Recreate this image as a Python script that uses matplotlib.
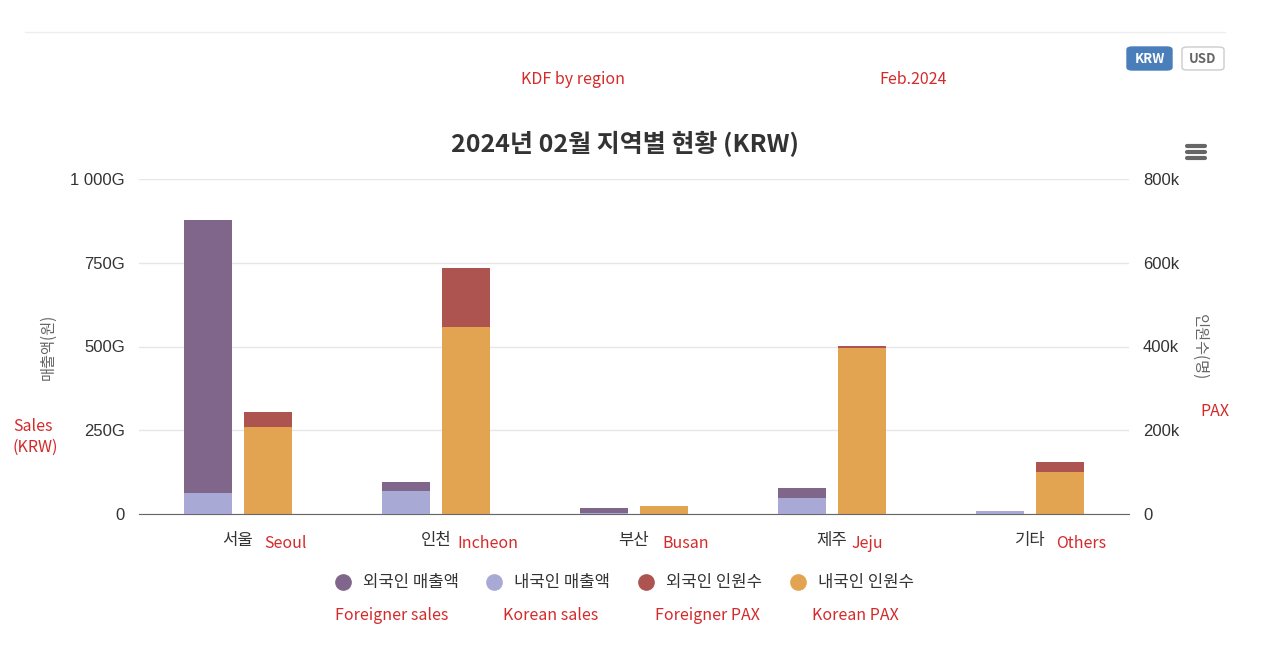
import matplotlib.pyplot as plt
from matplotlib.lines import Line2D
from matplotlib.patches import FancyBboxPatch
import numpy as np

plt.rcParams['font.family'] = ['Noto Sans CJK KR', 'DejaVu Sans']
latin = ['Liberation Sans', 'Noto Sans CJK KR']

# data (sales in G KRW, PAX in thousands)
regions_kr = ['서울', '인천', '부산', '제주', '기타']
regions_en = ['Seoul', 'Incheon', 'Busan', 'Jeju', 'Others']
foreign_sales = [815, 27, 15, 30, 1]
korean_sales = [63, 69, 3, 48, 8]
foreign_pax = [36, 140, 1, 5, 24]
korean_pax = [208, 447, 19, 396, 100]

series_kr = ['외국인 매출액', '내국인 매출액', '외국인 인원수', '내국인 인원수']
series_en = ['Foreigner sales', 'Korean sales', 'Foreigner PAX', 'Korean PAX']
colors = ['#80668b', '#a9a9d5', '#ad5450', '#e3a452']

W, H = 1277, 659
fig = plt.figure(figsize=(W / 100, H / 100), dpi=100)

def px(x, y):
    return x / W, 1 - y / H

ax = fig.add_axes([139 / W, 1 - 514 / H, 990 / W, 335 / H])
ax2 = ax.twinx()

x = np.arange(len(regions_kr))
bw = 0.242
off = 0.152

ax.bar(x - off, korean_sales, bw, color=colors[1], zorder=3)
ax.bar(x - off, foreign_sales, bw, bottom=korean_sales, color=colors[0], zorder=3)
ax2.bar(x + off, korean_pax, bw, color=colors[3], zorder=3)
ax2.bar(x + off, foreign_pax, bw, bottom=korean_pax, color=colors[2], zorder=3)

ax.set_xlim(-0.5, 4.5)
ax.set_ylim(0, 1000)
ax2.set_ylim(0, 800)
ax.set_yticks([0, 250, 500, 750, 1000])
ax.set_yticklabels(['0', '250G', '500G', '750G', '1 000G'])
ax2.set_yticks([0, 200, 400, 600, 800])
ax2.set_yticklabels(['0', '200k', '400k', '600k', '800k'])
ax2.grid(axis='y', color='#e6e6e6', lw=1, zorder=0)
ax2.set_axisbelow(True)
for a in (ax, ax2):
    for s in a.spines.values():
        s.set_visible(False)
    a.tick_params(length=0, labelsize=12, colors='#333333', pad=10)
    for t in a.get_yticklabels():
        t.set_family(latin)
ax.spines['bottom'].set_visible(True)
ax.spines['bottom'].set_color('#666666')
ax.set_xticks(x)
ax.set_xticklabels([])
ax.set_zorder(2)
ax2.set_zorder(1)
ax.patch.set_visible(False)

# category labels and red annotations
red = '#d42a2a'
lab_x = [238, 436, 634, 832, 1030]
en_x = [286, 488, 686, 867, 1081]
for i in range(len(regions_kr)):
    fig.text(*px(lab_x[i], 541), regions_kr[i], ha='center', va='center', fontsize=12, color='#333333')
    fig.text(*px(en_x[i], 544), regions_en[i], ha='center', va='center', fontsize=11.5, color=red)

# axis titles
fig.text(*px(48, 347), '매출액(원)', rotation=90, ha='center', va='center', fontsize=11, color='#666666')
fig.text(*px(1200, 347), '인원수(명)', rotation=270, ha='center', va='center', fontsize=11, color='#666666')
fig.text(*px(13, 437), 'Sales\n(KRW)', ha='left', va='center', fontsize=11.5, color=red, linespacing=1.3)
fig.text(*px(1215, 412), 'PAX', ha='center', va='center', fontsize=11.5, color=red)

# title and header
fig.text(*px(625, 144), '2024년 02월 지역별 현황 (KRW)', ha='center', va='center', fontsize=18,
         fontweight='bold', color='#333333')
fig.text(*px(573, 79), 'KDF by region', ha='center', va='center', fontsize=11.5, color=red)
fig.text(*px(913, 79), 'Feb.2024', ha='center', va='center', fontsize=11.5, color=red)
fig.add_artist(Line2D([25 / W, 1225 / W], [1 - 32 / H] * 2, color='#eeeeee', lw=1))

# KRW / USD buttons
b1 = FancyBboxPatch(px(1127, 70), 45 / W, 23 / H, boxstyle='round,pad=0,rounding_size=0.004',
                    transform=fig.transFigure, fc='#4a7ebb', ec='#4a7ebb')
b2 = FancyBboxPatch(px(1182, 70), 42 / W, 23 / H, boxstyle='round,pad=0,rounding_size=0.004',
                    transform=fig.transFigure, fc='white', ec='#cccccc')
fig.add_artist(b1)
fig.add_artist(b2)
fig.text(*px(1149.5, 59), 'KRW', ha='center', va='center', fontsize=9.5, fontweight='bold', color='white')
fig.text(*px(1203, 59), 'USD', ha='center', va='center', fontsize=9.5, fontweight='bold', color='#666666')

# hamburger menu
for yy in (146, 152, 158):
    fig.add_artist(Line2D([1187 / W, 1205 / W], [1 - yy / H] * 2, color='#666666', lw=3,
                          solid_capstyle='round'))

# legend
handles = [Line2D([], [], marker='o', ls='none', ms=11, color=c) for c in colors]
fig.legend(handles, series_kr, loc='center', bbox_to_anchor=px(620, 583), ncol=4, frameon=False,
           fontsize=12, handletextpad=0.2, columnspacing=1.15, labelcolor='#333333')
for xx, t in zip([392, 551, 707, 855], series_en):
    fig.text(*px(xx, 615), t, ha='center', va='center', fontsize=11.5, color=red)

fig.savefig('out.png', dpi=100)
